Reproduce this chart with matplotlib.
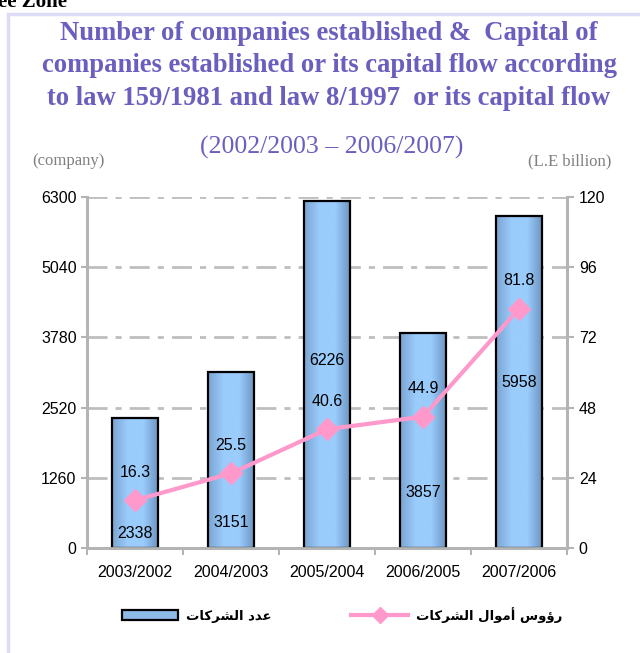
import numpy as np
import matplotlib
matplotlib.use("Agg")
import matplotlib.pyplot as plt
from matplotlib.patches import Rectangle, Patch
from matplotlib.lines import Line2D
from matplotlib.colors import LinearSegmentedColormap

# data
years = ["2003/2002", "2004/2003", "2005/2004", "2006/2005", "2007/2006"]
companies = [2338, 3151, 6226, 3857, 5958]
capital = [16.3, 25.5, 40.6, 44.9, 81.8]
left_ticks = [0, 1260, 2520, 3780, 5040, 6300]
right_ticks = [0, 24, 48, 72, 96, 120]
label_bars = "عدد الشركات"
label_line = "رؤوس أموال الشركات"

# where the company numbers sit inside each bar (fraction of bar height)
lab_frac = [0.115, 0.148, 0.54, 0.256, 0.50]

# --- tiny arabic shaper (matplotlib does no shaping / bidi) ---
FORMS = {
    "ع": (0xFEC9, 0xFECA, 0xFECB, 0xFECC), "د": (0xFEA9, 0xFEAA, 0xFEA9, 0xFEAA),
    "ا": (0xFE8D, 0xFE8E, 0xFE8D, 0xFE8E), "ل": (0xFEDD, 0xFEDE, 0xFEDF, 0xFEE0),
    "ش": (0xFEB5, 0xFEB6, 0xFEB7, 0xFEB8), "ر": (0xFEAD, 0xFEAE, 0xFEAD, 0xFEAE),
    "ك": (0xFED9, 0xFEDA, 0xFEDB, 0xFEDC), "ت": (0xFE95, 0xFE96, 0xFE97, 0xFE98),
    "ؤ": (0xFE85, 0xFE86, 0xFE85, 0xFE86), "و": (0xFEED, 0xFEEE, 0xFEED, 0xFEEE),
    "س": (0xFEB1, 0xFEB2, 0xFEB3, 0xFEB4), "أ": (0xFE83, 0xFE84, 0xFE83, 0xFE84),
    "م": (0xFEE1, 0xFEE2, 0xFEE3, 0xFEE4),
}
NOJOIN = set("ادرؤوأ")


def shape(s):
    out = []
    for i, c in enumerate(s):
        if c not in FORMS:
            out.append(c)
            continue
        p = s[i - 1] if i > 0 else " "
        n = s[i + 1] if i + 1 < len(s) else " "
        jp = p in FORMS and p not in NOJOIN
        jn = n in FORMS and c not in NOJOIN
        idx = 3 if (jp and jn) else 1 if jp else 2 if jn else 0
        out.append(chr(FORMS[c][idx]))
    return "".join(out[::-1])


purple = "#6A5FBE"
grey = "#B4B4B4"

fig = plt.figure(figsize=(6.4, 6.53), dpi=100)
W, H = 640, 653

# lavender frame (runs off the right and bottom edges)
fig.patches.append(Rectangle((8 / W, -0.05), 1.0, 1 - 14 / H + 0.05, transform=fig.transFigure,
                             fill=False, edgecolor="#DCDCF4", lw=2.5))
fig.text(-2 / W, 1 - 7 / H, "ee Zone", fontsize=15, fontweight="bold",
         family="Liberation Serif", va="baseline", ha="left")

title = ("Number of companies established &  Capital of\n"
         "companies established or its capital flow according\n"
         "to law 159/1981 and law 8/1997  or its capital flow")
fig.text(329 / W, 1 - 66 / H, title, ha="center", va="center", fontsize=19.2,
         fontweight="bold", family="Liberation Serif", color=purple, linespacing=1.42)
fig.text(332 / W, 1 - 147 / H, "(2002/2003 \u2013 2006/2007)", ha="center", va="center",
         fontsize=18.5, family="Liberation Serif", color=purple)
fig.text(68 / W, 1 - 161 / H, "(company)", ha="center", va="center", fontsize=12,
         family="Liberation Serif", color="#808080")
fig.text(570 / W, 1 - 161 / H, "(L.E billion)", ha="center", va="center", fontsize=12,
         family="Liberation Serif", color="#808080")

ax = fig.add_axes([87 / W, 1 - 548 / H, 480 / W, 351 / H])
ax2 = ax.twinx()

x = np.arange(len(years))
bars = ax.bar(x, companies, width=0.48, facecolor="none", edgecolor="black", lw=1.6, zorder=3)

cmap = LinearSegmentedColormap.from_list("bar", ["#7AA4D0", "#9ACCFC", "#9ACCFC", "#6A92BE"])
grad = np.linspace(0, 1, 256).reshape(1, -1)
for b in bars:
    x0, w, h = b.get_x(), b.get_width(), b.get_height()
    im = ax.imshow(grad, cmap=cmap, aspect="auto", extent=[x0, x0 + w, 0, h], zorder=2)
    im.set_clip_path(b)

for xi, v, f in zip(x, companies, lab_frac):
    ax.text(xi, v * f, str(v), ha="center", va="center", fontsize=11.5,
            family="Liberation Sans", zorder=5)

ax.set_xlim(-0.5, len(years) - 0.5)
ax.set_ylim(0, 6300)
ax.set_yticks(left_ticks)
ax.set_xticks(x)
ax.set_xticklabels(years, family="Liberation Sans", fontsize=11.5)
ax.set_xticks(np.arange(-0.5, len(years)), minor=True)
ax.tick_params(axis="x", which="major", length=0, pad=12)
ax.tick_params(axis="x", which="minor", length=5, width=1.5, color=grey)
ax.tick_params(axis="y", length=4, width=1.5, color=grey, labelsize=11.5)
for t in ax.get_yticklabels():
    t.set_family("Liberation Sans")
ax.grid(axis="y", color="#BEBEBE", lw=2, dashes=(7.2, 2.9, 2.2, 2.9), zorder=0)
ax.set_axisbelow(True)

ax2.plot(x, capital, color="#FF99CC", lw=3, marker="D", markersize=11, zorder=4)
for xi, v in zip(x, capital):
    ax2.annotate(f"{v}", (xi, v), xytext=(0, 20), textcoords="offset points",
                 ha="center", va="center", fontsize=11.5, family="Liberation Sans", zorder=5)
ax2.set_ylim(0, 120)
ax2.set_yticks(right_ticks)
ax2.tick_params(axis="y", length=5, width=1.5, color=grey, labelsize=11.5)
for t in ax2.get_yticklabels():
    t.set_family("Liberation Sans")

for a in (ax, ax2):
    a.spines["top"].set_visible(False)
    for s in ("left", "right", "bottom"):
        a.spines[s].set_color(grey)
        a.spines[s].set_linewidth(2)
ax.set_zorder(ax2.get_zorder() - 1)
ax2.patch.set_visible(False)
ax.patch.set_visible(False)

handles = [Patch(facecolor="#8DBAE6", edgecolor="black", lw=1.6),
           Line2D([], [], color="#FF99CC", lw=3, marker="D", markersize=8)]
fig.legend(handles, [shape(label_bars), shape(label_line)], loc="center",
           bbox_to_anchor=(342 / W, 1 - 615 / H), ncol=2, frameon=False,
           prop={"family": "DejaVu Sans", "weight": "bold", "size": 9.5},
           columnspacing=6, handlelength=4.3, handleheight=0.8, handletextpad=0.6)

fig.savefig("out.png", dpi=100)
